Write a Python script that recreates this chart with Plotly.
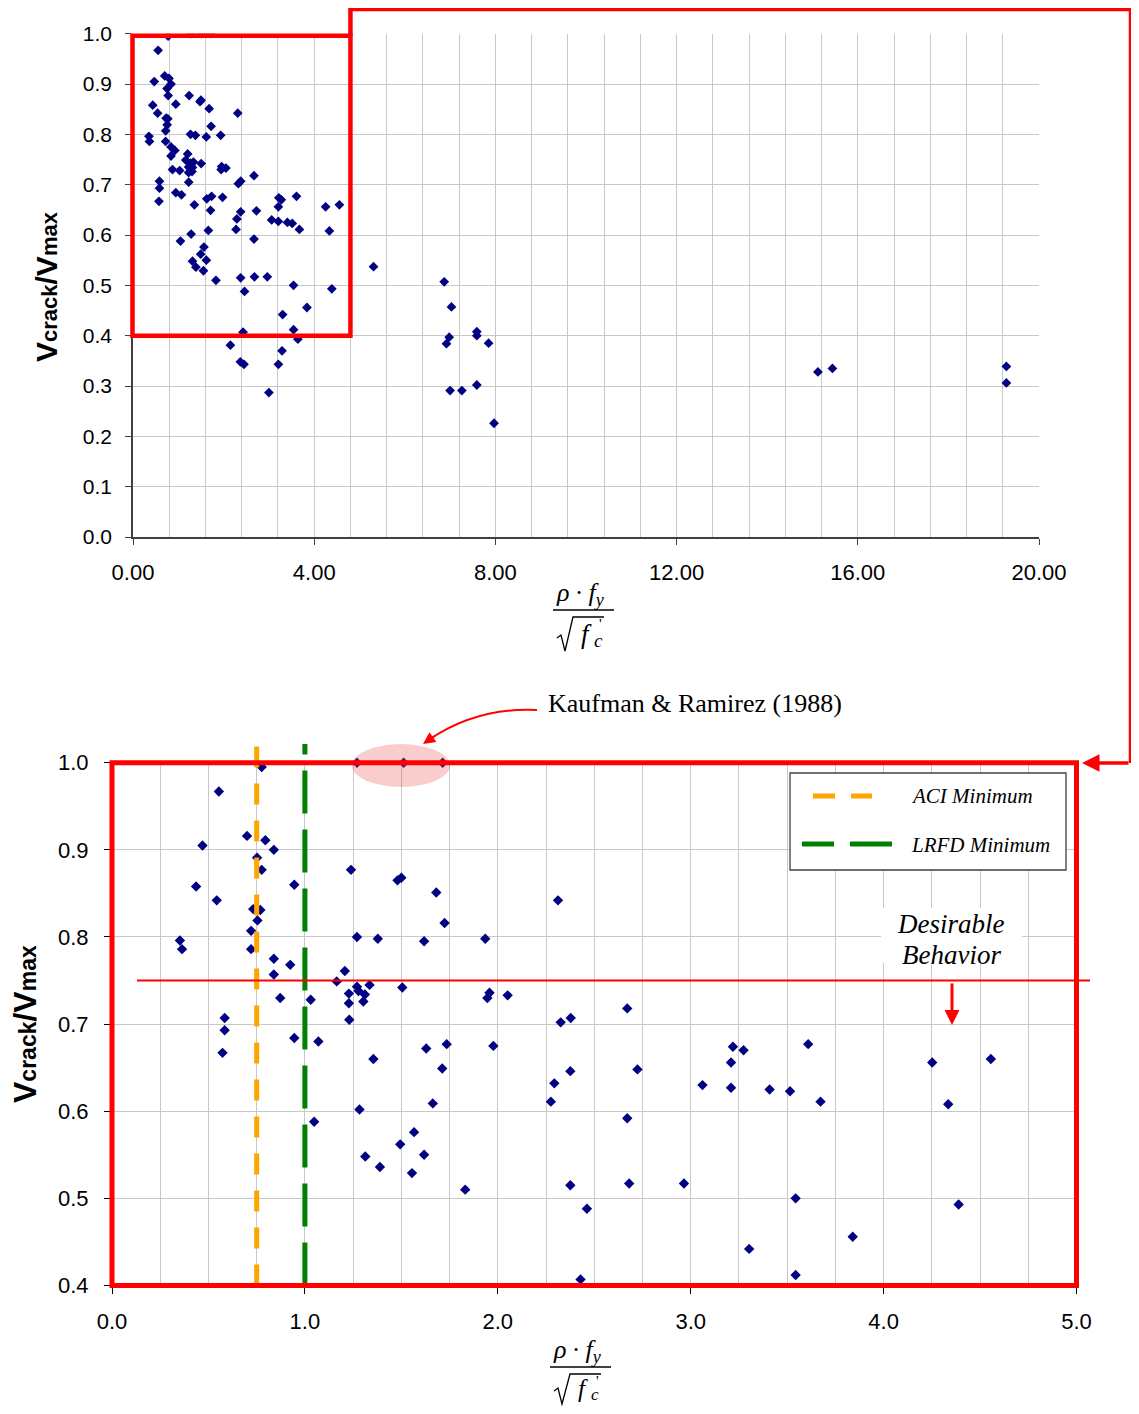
import plotly.graph_objects as go

# ---------------- data ----------------
# rho*fy/sqrt(f'c)
rho_fy_ratio = [
    0.776, 0.554, 0.700, 0.795, 0.839, 0.469, 0.752, 0.776, 0.436, 0.945,
    1.239, 1.480, 1.500, 1.681, 0.543, 2.312, 0.732, 0.769, 0.754, 1.724,
    0.352, 0.363, 0.721, 0.721, 1.270, 1.378, 1.618, 1.935, 0.839, 0.924,
    0.839, 1.207, 1.165, 1.270, 1.505, 1.335, 1.278, 1.228, 1.311, 1.228,
    1.303, 0.872, 1.030, 1.946, 1.957, 2.051, 1.230, 0.584, 0.584, 0.573,
    0.945, 1.070, 1.355, 1.629, 1.735, 1.977, 1.712, 1.663, 1.283, 1.048,
    1.566, 1.494, 1.618, 1.313, 1.389, 1.555, 1.831, 2.275, 2.293, 2.671,
    2.326, 2.378, 3.219, 3.274, 3.609, 4.252, 4.556, 3.209, 2.376, 2.724,
    3.061, 3.209, 3.409, 3.515, 3.673, 4.335, 2.671, 2.376, 2.681, 2.965,
    3.544, 4.389, 2.462, 3.840, 3.303, 2.429, 3.544, 1.270, 1.512, 1.714,
    2.15, 2.37, 2.45, 3.00, 3.21, 3.29, 3.64, 5.31, 6.87, 7.03,
    6.98, 6.92, 7.59, 7.59, 7.85, 7.00, 7.26, 7.59, 7.97, 15.12,
    15.44, 19.28, 19.28,
]
# Vcrack/Vmax
vcrack_vmax = [
    0.995, 0.967, 0.916, 0.911, 0.900, 0.905, 0.891, 0.877, 0.858, 0.860,
    0.877, 0.865, 0.868, 0.851, 0.842, 0.842, 0.832, 0.831, 0.819, 0.816,
    0.796, 0.786, 0.807, 0.786, 0.800, 0.798, 0.795, 0.798, 0.775, 0.768,
    0.757, 0.761, 0.749, 0.743, 0.742, 0.745, 0.738, 0.735, 0.734, 0.724,
    0.726, 0.730, 0.728, 0.730, 0.736, 0.733, 0.705, 0.707, 0.693, 0.667,
    0.684, 0.680, 0.660, 0.672, 0.677, 0.675, 0.649, 0.609, 0.602, 0.588,
    0.576, 0.562, 0.550, 0.548, 0.536, 0.529, 0.510, 0.611, 0.632, 0.718,
    0.702, 0.707, 0.674, 0.670, 0.677, 0.656, 0.660, 0.656, 0.646, 0.648,
    0.630, 0.627, 0.625, 0.623, 0.611, 0.608, 0.592, 0.515, 0.517, 0.517,
    0.500, 0.493, 0.488, 0.456, 0.442, 0.407, 0.412, 1.000, 1.000, 1.000,
    0.381, 0.348, 0.343, 0.287, 0.343, 0.370, 0.393, 0.537, 0.507, 0.457,
    0.397, 0.384, 0.408, 0.400, 0.385, 0.291, 0.291, 0.302, 0.226, 0.328,
    0.335, 0.339, 0.306,
]

ACI_MIN = 0.75          # ACI minimum shear reinforcement
LRFD_MIN = 1.0          # LRFD minimum shear reinforcement
DESIRABLE_LIMIT = 0.75  # desirable behaviour threshold
ZOOM_X = [0.0, 4.8]     # region shown enlarged below
ZOOM_Y = [0.4, 1.0]

TOP_XRANGE = [0, 20]
TOP_YRANGE = [0, 1]
BOT_XRANGE = [0, 5]
BOT_YRANGE = [0.4, 1.0]

# ---------------- geometry helpers (reference pixel -> paper) ----------------
OFF = 8                 # default body margin of the html page
W, H = 1139 - 2 * OFF, 1414 - 2 * OFF


def px(X):
    return (X - OFF) / W


def py(Y):
    return 1 - (Y - OFF) / H


TOP_L, TOP_R, TOP_T, TOP_B = 133, 1039, 33.7, 537
BOT_L, BOT_R, BOT_T, BOT_B = 112, 1076.5, 762.7, 1285.5


def top_x(v):
    return TOP_L + (v - TOP_XRANGE[0]) / (TOP_XRANGE[1] - TOP_XRANGE[0]) * (TOP_R - TOP_L)


def top_y(v):
    return TOP_B - (v - TOP_YRANGE[0]) / (TOP_YRANGE[1] - TOP_YRANGE[0]) * (TOP_B - TOP_T)


SANS = "Liberation Sans, Arial, sans-serif"
SERIF = "Liberation Serif, Times New Roman, serif"
NAVY = "#000080"
RED = "#FF0000"
ORANGE = "#FFA500"
GREEN = "#008000"
GRID = "#C8C8C8"

fig = go.Figure()

# top: all data
fig.add_trace(go.Scatter(
    x=rho_fy_ratio, y=vcrack_vmax, mode="markers", xaxis="x", yaxis="y",
    marker=dict(symbol="diamond", size=7.5, color=NAVY, line=dict(width=0)),
    cliponaxis=True, showlegend=False, hoverinfo="x+y"))

# bottom: data inside the enlarged window
bx = [a for a, b in zip(rho_fy_ratio, vcrack_vmax) if a <= BOT_XRANGE[1] and b >= BOT_YRANGE[0]]
by = [b for a, b in zip(rho_fy_ratio, vcrack_vmax) if a <= BOT_XRANGE[1] and b >= BOT_YRANGE[0]]
fig.add_trace(go.Scatter(
    x=bx, y=by, mode="markers", xaxis="x2", yaxis="y2",
    marker=dict(symbol="diamond", size=8, color=NAVY, line=dict(width=0)),
    cliponaxis=False, showlegend=False, hoverinfo="x+y"))

tickfont_top_x = dict(family=SANS, size=22, color="black")
tickfont_top_y = dict(family=SANS, size=21, color="black")
tickfont_bot = dict(family=SANS, size=22, color="black")

fig.update_layout(
    width=W, height=H,
    margin=dict(l=0, r=0, t=0, b=0, autoexpand=False),
    paper_bgcolor="white", plot_bgcolor="white",
    showlegend=False,
    xaxis=dict(domain=[px(TOP_L), px(TOP_R)], range=TOP_XRANGE, anchor="y",
               tick0=0, dtick=4, tickformat=".2f",
               showgrid=True, gridcolor=GRID, gridwidth=1,
               minor=dict(dtick=0.8, showgrid=True, gridcolor=GRID, gridwidth=1, ticks=""),
               showline=True, linecolor="#404040", linewidth=1.5,
               ticks="outside", ticklen=6, tickwidth=1.2, tickcolor="#404040",
               ticklabelstandoff=9,
               tickfont=tickfont_top_x, zeroline=False, fixedrange=True),
    yaxis=dict(domain=[py(TOP_B), py(TOP_T)], range=TOP_YRANGE, anchor="x",
               tick0=0, dtick=0.1, tickformat=".1f",
               showgrid=True, gridcolor=GRID, gridwidth=1,
               showline=True, linecolor="#404040", linewidth=1.5,
               ticks="outside", ticklen=6, tickwidth=1.2, tickcolor="#404040",
               ticklabelstandoff=9,
               tickfont=tickfont_top_y, zeroline=False, fixedrange=True),
    xaxis2=dict(domain=[px(BOT_L), px(BOT_R)], range=BOT_XRANGE, anchor="y2",
                tick0=0, dtick=1, tickformat=".1f",
                showgrid=True, gridcolor=GRID, gridwidth=1,
                minor=dict(dtick=0.25, showgrid=True, gridcolor=GRID, gridwidth=1, ticks=""),
                showline=True, linecolor="black", linewidth=1,
                ticks="outside", ticklen=7, tickwidth=1, tickcolor="black",
                ticklabelstandoff=9,
                tickfont=tickfont_bot, zeroline=False, fixedrange=True),
    yaxis2=dict(domain=[py(BOT_B), py(BOT_T)], range=BOT_YRANGE, anchor="x2",
                tick0=0.4, dtick=0.1, tickformat=".1f",
                showgrid=True, gridcolor=GRID, gridwidth=1,
                showline=True, linecolor="black", linewidth=1,
                ticks="outside", ticklen=7, tickwidth=1, tickcolor="black",
                ticklabelstandoff=11,
                tickfont=tickfont_bot, zeroline=False, fixedrange=True),
)

shapes = []
annos = []


def pline(x0, y0, x1, y1, color, width, dash=None, layer="above"):
    d = dict(type="line", xref="paper", yref="paper",
             x0=px(x0), y0=py(y0), x1=px(x1), y1=py(y1),
             line=dict(color=color, width=width), layer=layer)
    if dash:
        d["line"]["dash"] = dash
    shapes.append(d)


# ---- Kaufman & Ramirez highlight ellipse
shapes.append(dict(type="circle", xref="paper", yref="paper",
                   x0=px(352), x1=px(450), y0=py(787), y1=py(744),
                   fillcolor="rgba(240,90,90,0.30)", line=dict(width=0), layer="above"))

# ---- vertical minimum lines (x from data, extend above the plot)
shapes.append(dict(type="line", xref="x2", yref="paper", x0=ACI_MIN, x1=ACI_MIN,
                   y0=py(BOT_B), y1=py(744),
                   line=dict(color=ORANGE, width=5, dash="21px,16px"), layer="above"))
shapes.append(dict(type="line", xref="x2", yref="paper", x0=LRFD_MIN, x1=LRFD_MIN,
                   y0=py(BOT_B), y1=py(744),
                   line=dict(color=GREEN, width=5, dash="43px,16px"), layer="above"))

# ---- desirable behaviour horizontal line
shapes.append(dict(type="line", xref="paper", yref="y2", x0=px(137), x1=px(1090),
                   y0=DESIRABLE_LIMIT, y1=DESIRABLE_LIMIT,
                   line=dict(color=RED, width=2), layer="above"))

# ---- top zoom rectangle
zx0, zx1 = top_x(ZOOM_X[0]), top_x(ZOOM_X[1])
zy0, zy1 = top_y(ZOOM_Y[0]), top_y(ZOOM_Y[1])
shapes.append(dict(type="rect", xref="paper", yref="paper",
                   x0=px(zx0 - 0.5), x1=px(zx1), y0=py(zy0), y1=py(zy1 + 2),
                   line=dict(color=RED, width=4.5), layer="above"))
# connector
path = "M {} {} L {} {} L {} {} L {} {}".format(
    px(zx1), py(zy1 + 2), px(zx1), py(9), px(1131), py(9), px(1131), py(763))
shapes.append(dict(type="path", xref="paper", yref="paper", path=path,
                   line=dict(color=RED, width=4.5), layer="above"))

# ---- bottom red frame
shapes.append(dict(type="rect", xref="paper", yref="paper",
                   x0=px(BOT_L), x1=px(BOT_R), y0=py(BOT_B), y1=py(BOT_T),
                   line=dict(color=RED, width=5), layer="above"))

# arrow into bottom frame
annos.append(dict(xref="paper", yref="paper", x=px(1082), y=py(763), text="",
                  showarrow=True, ax=48, ay=0, arrowhead=2, arrowsize=1,
                  arrowwidth=3.5, arrowcolor=RED))

# ---- curved arrow from Kaufman label
cpath = "M {} {} Q {} {} {} {}".format(px(537), py(710), px(478), py(707), px(430), py(739))
shapes.append(dict(type="path", xref="paper", yref="paper", path=cpath,
                   line=dict(color=RED, width=2), layer="above"))
annos.append(dict(xref="paper", yref="paper", x=px(423), y=py(744), text="",
                  showarrow=True, ax=13, ay=-9, arrowhead=2, arrowsize=1.2,
                  arrowwidth=2, arrowcolor=RED))
annos.append(dict(xref="paper", yref="paper", x=px(695), y=py(703),
                  text="Kaufman &amp; Ramirez (1988)", showarrow=False,
                  font=dict(family=SERIF, size=26, color="black"),
                  xanchor="center", yanchor="middle"))

# ---- legend (drawn)
shapes.append(dict(type="rect", xref="paper", yref="paper",
                   x0=px(790), x1=px(1066), y0=py(870), y1=py(773),
                   line=dict(color="#404040", width=1.3), fillcolor="white", layer="above"))
pline(813, 796, 835, 796, ORANGE, 5)
pline(851, 796, 872, 796, ORANGE, 5)
pline(802, 844, 834, 844, GREEN, 5)
pline(850, 844, 892, 844, GREEN, 5)
annos.append(dict(xref="paper", yref="paper", x=px(909), y=py(796),
                  text="<i>ACI Minimum</i>", showarrow=False,
                  font=dict(family=SERIF, size=21, color="black"),
                  xanchor="left", yanchor="middle"))
annos.append(dict(xref="paper", yref="paper", x=px(909), y=py(845),
                  text="<i>LRFD Minimum</i>", showarrow=False,
                  font=dict(family=SERIF, size=21, color="black"),
                  xanchor="left", yanchor="middle"))

# ---- Desirable behaviour label
shapes.append(dict(type="rect", xref="paper", yref="paper",
                   x0=px(881), x1=px(1022), y0=py(963), y1=py(908),
                   line=dict(width=0), fillcolor="white", layer="above"))
annos.append(dict(xref="paper", yref="paper", x=px(951), y=py(924),
                  text="<i>Desirable</i>", showarrow=False,
                  font=dict(family=SERIF, size=27, color="black"),
                  xanchor="center", yanchor="middle"))
annos.append(dict(xref="paper", yref="paper", x=px(951), y=py(955),
                  text="<i>Behavior</i>", showarrow=False,
                  font=dict(family=SERIF, size=27, color="black"),
                  xanchor="center", yanchor="middle"))
annos.append(dict(xref="paper", yref="paper", x=px(952), y=py(1025), text="",
                  showarrow=True, ax=0, ay=-43, arrowhead=2, arrowsize=1,
                  arrowwidth=3, arrowcolor=RED))

# ---- y axis titles
annos.append(dict(xref="paper", yref="paper", x=px(46), y=py(287),
                  text="<b>V<span style='font-size:22px'>crack</span>/V<span style='font-size:22px'>max</span></b>",
                  textangle=-90, showarrow=False,
                  font=dict(family=SANS, size=30, color="black"),
                  xanchor="center", yanchor="middle"))
annos.append(dict(xref="paper", yref="paper", x=px(25), y=py(1024),
                  text="<b>V<span style='font-size:23px'>crack</span>/V<span style='font-size:23px'>max</span></b>",
                  textangle=-90, showarrow=False,
                  font=dict(family=SANS, size=32, color="black"),
                  xanchor="center", yanchor="middle"))


# ---- x axis titles: rho*fy / sqrt(f'c)
def fraction(lx, ly, fsize=27, csize=19, fdy=24, cdy=31, rb=41):
    annos.append(dict(xref="paper", yref="paper", x=px(lx + 27), y=py(ly - 16),
                      text="<i>ρ</i>\u2009·\u2009<i>f</i><sub><i>y</i></sub>", showarrow=False,
                      font=dict(family=SERIF, size=26, color="black"),
                      xanchor="center", yanchor="middle"))
    pline(lx, ly, lx + 61, ly, "black", 1.3)
    rp = "M {} {} L {} {} L {} {} L {} {} L {} {}".format(
        px(lx + 4), py(ly + rb - 13), px(lx + 8), py(ly + rb - 16), px(lx + 12), py(ly + rb),
        px(lx + 20), py(ly + 7), px(lx + 51), py(ly + 7))
    shapes.append(dict(type="path", xref="paper", yref="paper", path=rp,
                       line=dict(color="black", width=1.3), layer="above"))
    annos.append(dict(xref="paper", yref="paper", x=px(lx + 33), y=py(ly + fdy),
                      text="<i>f</i>", showarrow=False,
                      font=dict(family=SERIF, size=fsize, color="black"),
                      xanchor="center", yanchor="middle"))
    annos.append(dict(xref="paper", yref="paper", x=px(lx + 47), y=py(ly + 14),
                      text="'", showarrow=False,
                      font=dict(family=SERIF, size=15, color="black"),
                      xanchor="center", yanchor="middle"))
    annos.append(dict(xref="paper", yref="paper", x=px(lx + 45), y=py(ly + cdy),
                      text="<i>c</i>", showarrow=False,
                      font=dict(family=SERIF, size=csize, color="black"),
                      xanchor="center", yanchor="middle"))


fraction(553, 610)
fraction(550, 1367, fsize=25, csize=17, fdy=21, cdy=27, rb=37)

fig.update_layout(shapes=shapes, annotations=annos)
fig.write_html("out.html")
